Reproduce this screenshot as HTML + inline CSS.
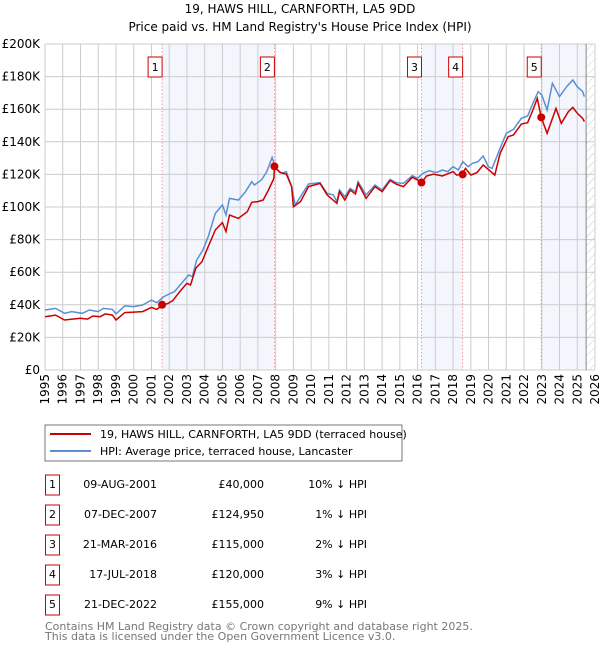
<!DOCTYPE html>
<html><head><meta charset="utf-8"><style>
body{margin:0;background:#fff;font-family:"DejaVu Sans","Liberation Sans",sans-serif;}
svg text{font-family:"DejaVu Sans","Liberation Sans",sans-serif;}
</style></head><body>
<svg id="c" width="600" height="650" viewBox="0 0 600 650">
<defs><pattern id="hatch" width="6" height="6" patternUnits="userSpaceOnUse" patternTransform="rotate(45)"><line x1="0" y1="0" x2="0" y2="6" stroke="#ccc" stroke-width="1"/></pattern></defs>
<text x="300" y="13" text-anchor="middle" font-size="12">19, HAWS HILL, CARNFORTH, LA5 9DD</text>
<text x="300" y="31" text-anchor="middle" font-size="12">Price paid vs. HM Land Registry's House Price Index (HPI)</text>
<g id="plot"></g>
<rect x="45" y="425" width="357" height="36" fill="#fff" stroke="#777"/>
<line x1="50" y1="434" x2="91" y2="434" stroke="#cc0000" stroke-width="2"/>
<text x="100" y="438" font-size="11">19, HAWS HILL, CARNFORTH, LA5 9DD (terraced house)</text>
<line x1="50" y1="451" x2="91" y2="451" stroke="#5b8fd4" stroke-width="2"/>
<text x="100" y="455" font-size="11">HPI: Average price, terraced house, Lancaster</text>
<g id="table" font-size="11"></g>
<text x="45" y="630" font-size="11" fill="#777">Contains HM Land Registry data © Crown copyright and database right 2025.</text>
<text x="45" y="640" font-size="11" fill="#777">This data is licensed under the Open Government Licence v3.0.</text>
</svg>
<script>
const yTicks=[0,20,40,60,80,100,120,140,160,180,200];
const xYears=[1995,1996,1997,1998,1999,2000,2001,2002,2003,2004,2005,2006,2007,2008,2009,2010,2011,2012,2013,2014,2015,2016,2017,2018,2019,2020,2021,2022,2023,2024,2025,2026];
const hpiT=[1995,1995.6,1996.1,1996.5,1997.1,1997.5,1998,1998.3,1998.8,1999,1999.5,2000,2000.5,2001,2001.3,2001.7,2002,2002.3,2002.7,2003.1,2003.3,2003.55,2003.9,2004.2,2004.6,2005,2005.2,2005.4,2005.9,2006.3,2006.65,2006.8,2007.2,2007.5,2007.8,2008,2008.35,2008.6,2008.9,2009.1,2009.4,2009.85,2010.5,2010.9,2011.25,2011.45,2011.6,2011.9,2012.2,2012.5,2012.65,2013.1,2013.6,2014,2014.45,2014.8,2015.2,2015.7,2016,2016.3,2016.65,2017.05,2017.4,2017.7,2018,2018.3,2018.55,2018.85,2019.1,2019.4,2019.7,2019.99,2020.2,2020.65,2021,2021.4,2021.85,2022.2,2022.5,2022.8,2023,2023.3,2023.6,2024,2024.4,2024.75,2025,2025.3,2025.4];
const hpiV=[36.8,37.8,34.8,35.8,34.8,36.8,35.8,37.8,37.2,34.4,39.3,38.9,39.9,42.9,41.3,45,46.6,48.1,53.2,58.3,57.3,67.5,73.6,81.8,96.1,101.2,95.1,105.3,104.3,109.4,115.5,113.5,116.6,121.7,130.5,123.7,120.7,121.7,112.5,101.2,106.3,114.1,114.9,108.4,107.4,103.3,110.4,106.3,111.4,109.4,115.5,107.4,113.5,110.4,117,114.9,114.5,119.2,117.6,120.7,122.3,121.1,122.7,121.7,124.7,122.7,127.8,124.7,126.8,127.8,131.3,124.7,123.7,136,145.2,147.6,154.4,155.8,163.6,170.8,168.7,159.5,175.9,167.7,173.8,177.9,173.8,170.8,167.7];
const redT=[1995,1995.6,1996.1,1997,1997.4,1997.7,1998.1,1998.4,1998.8,1999,1999.5,2000.5,2001,2001.3,2001.6,2001.95,2002.2,2002.6,2003,2003.2,2003.5,2003.85,2004.2,2004.6,2005,2005.2,2005.4,2005.9,2006.4,2006.65,2007,2007.3,2007.6,2007.9,2007.93,2008.25,2008.6,2008.9,2009,2009.4,2009.85,2010.5,2010.9,2011.45,2011.6,2011.9,2012.2,2012.5,2012.65,2013.1,2013.6,2014,2014.45,2014.8,2015.2,2015.7,2016,2016.2,2016.5,2016.9,2017.4,2018,2018.2,2018.5,2018.7,2019,2019.35,2019.7,2020.35,2020.65,2021.1,2021.4,2021.85,2022.2,2022.5,2022.75,2022.97,2023.3,2023.8,2024.1,2024.5,2024.75,2025,2025.3,2025.4];
const redV=[32.7,33.7,30.7,31.7,31.2,33.1,32.7,34.4,33.7,30.7,35.2,35.8,38.4,37.2,39.7,40.9,42.5,48.1,53.2,52.1,62.4,66.5,75.7,85.9,90.4,84.9,95.1,93,97.1,102.9,103.3,104.3,110.4,117.6,124.7,121.1,120.2,112.5,100.2,103.3,112.5,114.5,107.4,102.2,109.4,104.3,110.4,108,114.5,105.3,112.5,109.4,116.2,114,112.5,118.2,116.6,114.5,119,120.2,119,121.7,119.6,120.2,123.7,119.6,121.1,125.8,119.6,132.9,143.1,144.2,150.9,151.7,159.5,166.7,155,145.2,160.5,151.3,158.5,161.1,157.5,154.4,152.4];
const saleLabels=["1","2","3","4","5"];
const saleT=[2001.6,2007.93,2016.22,2018.54,2022.97];
const saleV=[40,124.95,115,120,155];
const saleDates=["09-AUG-2001","07-DEC-2007","21-MAR-2016","17-JUL-2018","21-DEC-2022"];
const salePrices=["£40,000","£124,950","£115,000","£120,000","£155,000"];
const saleHpi=["10% ↓ HPI","1% ↓ HPI","2% ↓ HPI","3% ↓ HPI","9% ↓ HPI"];
const dataEnd=2025.5;

const X0=45,X1=595,Y0=370,Y1=44;
const xs=t=>X0+(t-1995)/(2026-1995)*(X1-X0);
const ys=v=>Y0-v/200*(Y0-Y1);
const NS="http://www.w3.org/2000/svg";
const plot=document.getElementById('plot');
function mk(tag,attrs,parent){const e=document.createElementNS(NS,tag);for(const k in attrs)e.setAttribute(k,attrs[k]);(parent||plot).appendChild(e);return e;}

const bands=[[0,1],[2,3]];
bands.forEach((b,i)=>{const r=mk('rect',{x:xs(saleT[b[0]]),y:Y1,width:xs(saleT[b[1]])-xs(saleT[b[0]]),height:Y0-Y1,fill:'#f3f6fd'});

});
const lb=mk('rect',{x:xs(saleT[4]),y:Y1,width:xs(dataEnd)-xs(saleT[4]),height:Y0-Y1,fill:'#f3f6fd'});


const hb=mk('rect',{x:xs(dataEnd),y:Y1,width:X1-xs(dataEnd),height:Y0-Y1,fill:'url(#hatch)'});



yTicks.forEach(v=>{const l=mk('line',{x1:X0,x2:X1,y1:ys(v),y2:ys(v),stroke:'#ccc','stroke-width':1});


const t=mk('text',{x:X0-5,y:ys(v)+4,'text-anchor':'end','font-size':12});


t.textContent=v===0?'£0':'£'+v+'K';});
xYears.forEach(yr=>{const l=mk('line',{x1:xs(yr),x2:xs(yr),y1:Y1,y2:Y0,stroke:'#ccc','stroke-width':1});


const t=mk('text',{x:0,y:0,'text-anchor':'end','font-size':12,transform:`translate(${xs(yr)+4},${Y0+4}) rotate(-90)`});


t.textContent=yr;});
const el=mk('line',{x1:xs(dataEnd),x2:xs(dataEnd),y1:Y1,y2:Y0,stroke:'#888','stroke-width':1});



saleT.forEach((t,i)=>{const l=mk('line',{x1:xs(t),x2:xs(t),y1:Y1,y2:Y0,stroke:'#f08080','stroke-width':0.8,'stroke-dasharray':'1.5,2'});


const r=mk('rect',{x:xs(t)-14,y:57,width:14,height:20,fill:'#fff',stroke:'#cc0000'});


const tx=mk('text',{x:xs(t)-7,y:71,'text-anchor':'middle','font-size':11});


tx.textContent=saleLabels[i];});

function path(T,V){return T.map((t,i)=>(i?'L':'M')+xs(t).toFixed(1)+','+ys(V[i]).toFixed(1)).join('');}
const hp=mk('path',{d:path(hpiT,hpiV),fill:'none',stroke:'#5b8fd4','stroke-width':1.5});


const rp=mk('path',{d:path(redT,redV),fill:'none',stroke:'#cc0000','stroke-width':1.5});


saleT.forEach((t,i)=>{const c=mk('circle',{cx:xs(t),cy:ys(saleV[i]),r:4,fill:'#cc0000'});

});

const tb=document.getElementById('table');
saleLabels.forEach((s,i)=>{const cy=485+i*30;
const r=mk('rect',{x:45.5,y:cy-10,width:14,height:20,fill:'#fff',stroke:'#cc0000'},tb);


const a=mk('text',{x:52.5,y:cy+3,'text-anchor':'middle'},tb);


a.textContent=s;
const d=mk('text',{x:157,y:cy+3,'text-anchor':'end'},tb);


d.textContent=saleDates[i];
const p=mk('text',{x:264,y:cy+3,'text-anchor':'end'},tb);


p.textContent=salePrices[i];
const h=mk('text',{x:367,y:cy+3,'text-anchor':'end'},tb);


h.textContent=saleHpi[i];});
</script>
</body></html>
